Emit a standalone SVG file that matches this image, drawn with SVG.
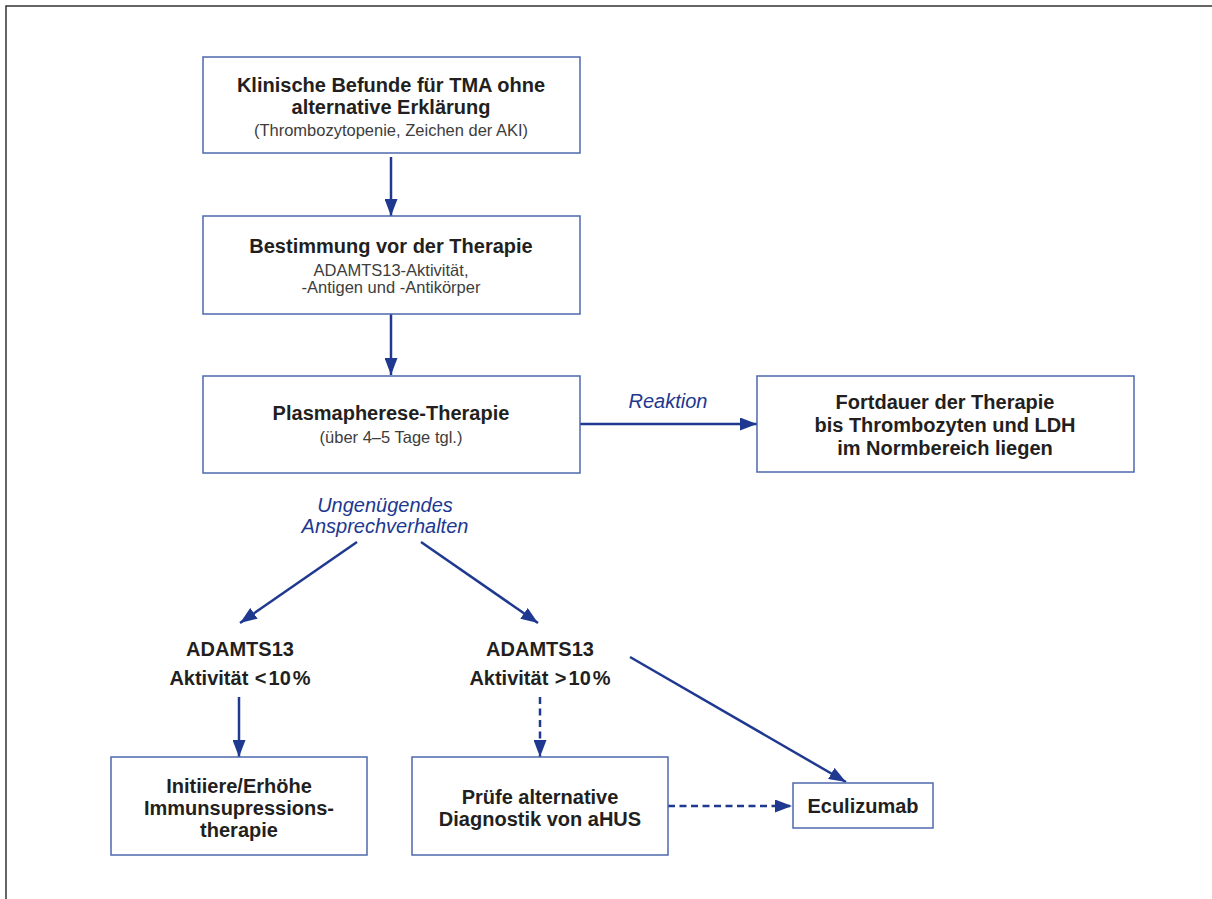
<svg xmlns="http://www.w3.org/2000/svg" width="1212" height="899" viewBox="0 0 1212 899">
<style>
.box{fill:#fff;stroke:#4f68ad;stroke-width:1.5}
.t{font-family:"Liberation Sans",Arial,sans-serif;font-size:20px;font-weight:bold;fill:#231f20;text-anchor:middle}
.s{font-family:"Liberation Sans",Arial,sans-serif;font-size:16.5px;fill:#3d3d3d;text-anchor:middle}
.lab{font-family:"Liberation Sans",Arial,sans-serif;font-size:20px;font-style:italic;fill:#21388f;text-anchor:middle}
.c{fill:none;stroke:#1f3990;stroke-width:2.5}
.d{stroke-dasharray:7 4.5}
</style>
<defs>
<marker id="ah" markerUnits="userSpaceOnUse" markerWidth="17" markerHeight="13" refX="17" refY="6.5" orient="auto">
<path d="M0,0 L17,6.5 L0,13 z" fill="#1f3990"/>
</marker>
</defs>
<rect x="6" y="6" width="1230" height="920" fill="none" stroke="#333" stroke-width="1.5"/>
<g id="connectors">
<line class="c" x1="391" y1="157" x2="391" y2="216" marker-end="url(#ah)"/>
<line class="c" x1="391" y1="314" x2="391" y2="375" marker-end="url(#ah)"/>
<line class="c" x1="580" y1="424" x2="757" y2="424" marker-end="url(#ah)"/>
<line class="c" x1="357" y1="542" x2="240" y2="623" marker-end="url(#ah)"/>
<line class="c" x1="421" y1="542" x2="538" y2="623" marker-end="url(#ah)"/>
<line class="c" x1="630" y1="657" x2="846" y2="782" marker-end="url(#ah)"/>
<line class="c" x1="239" y1="697" x2="239" y2="757" marker-end="url(#ah)"/>
<line class="c d" x1="540" y1="697" x2="540" y2="757" marker-end="url(#ah)"/>
<line class="c d" x1="668" y1="806" x2="792" y2="806" marker-end="url(#ah)"/>
<text class="lab" x="668" y="408">Reaktion</text>
<text class="lab" x="385" y="512">Ungenügendes</text>
<text class="lab" x="385" y="533">Ansprechverhalten</text>
</g>
<g id="n1">
<rect class="box" x="203" y="57" width="377" height="96"/>
<text class="t" x="391" y="92">Klinische Befunde für TMA ohne</text>
<text class="t" x="391" y="114">alternative Erklärung</text>
<text class="s" x="391" y="136">(Thrombozytopenie, Zeichen der AKI)</text>
</g>
<g id="n2">
<rect class="box" x="203" y="216" width="377" height="98"/>
<text class="t" x="391" y="253">Bestimmung vor der Therapie</text>
<text class="s" x="391" y="276">ADAMTS13-Aktivität,</text>
<text class="s" x="391" y="293">-Antigen und -Antikörper</text>
</g>
<g id="n3">
<rect class="box" x="203" y="376" width="377" height="97"/>
<text class="t" x="391" y="420">Plasmapherese-Therapie</text>
<text class="s" x="391" y="443">(über 4–5 Tage tgl.)</text>
</g>
<g id="n4">
<rect class="box" x="757" y="376" width="377" height="96"/>
<text class="t" x="945" y="409">Fortdauer der Therapie</text>
<text class="t" x="945" y="432">bis Thrombozyten und LDH</text>
<text class="t" x="945" y="455">im Normbereich liegen</text>
</g>
<g id="n5">
<text class="t" x="240" y="656">ADAMTS13</text>
<text class="t" x="240" y="685">Aktivität <tspan dx="1">&lt;</tspan><tspan dx="2">10</tspan><tspan dx="2">%</tspan></text>
</g>
<g id="n6">
<text class="t" x="540" y="656">ADAMTS13</text>
<text class="t" x="540" y="685">Aktivität <tspan dx="1">&gt;</tspan><tspan dx="2">10</tspan><tspan dx="2">%</tspan></text>
</g>
<g id="n7">
<rect class="box" x="111" y="757" width="256" height="98"/>
<text class="t" x="239" y="793">Initiiere/Erhöhe</text>
<text class="t" x="239" y="815">Immunsupressions-</text>
<text class="t" x="239" y="837">therapie</text>
</g>
<g id="n8">
<rect class="box" x="412" y="757" width="256" height="98"/>
<text class="t" x="540" y="804">Prüfe alternative</text>
<text class="t" x="540" y="826">Diagnostik von aHUS</text>
</g>
<g id="n9">
<rect class="box" x="793" y="783" width="140" height="45"/>
<text class="t" x="863" y="813">Eculizumab</text>
</g>
</svg>
